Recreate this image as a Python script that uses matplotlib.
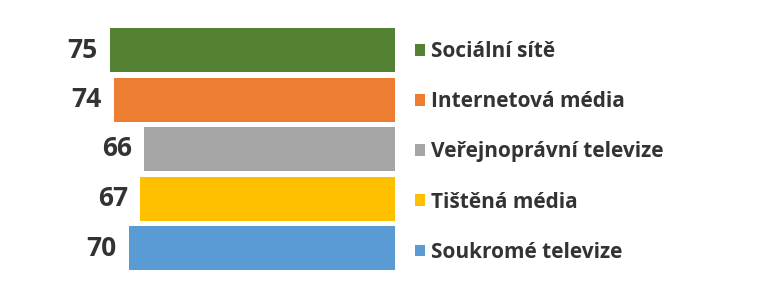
import matplotlib
matplotlib.use("Agg")
import matplotlib.pyplot as plt
from matplotlib.patches import Patch

categories = ["Sociální sítě", "Internetová média", "Veřejnoprávní televize",
              "Tištěná média", "Soukromé televize"]
values = [75, 74, 66, 67, 70]
colors = ["#548235", "#ED7D31", "#A5A5A5", "#FFC000", "#5B9BD5"]

W, H = 758, 299
fig = plt.figure(figsize=(W / 100, H / 100), dpi=100)
font = "Open Sans"
txt_color = "#333333"

zero_px = 395
ax = fig.add_axes([0, 0, zero_px / W, 1])
px_per_unit = 3.8
ax.set_xlim(zero_px / px_per_unit, 0)
pitch = 49.5
c0 = 50
ax.set_ylim((H - c0) / pitch, -c0 / pitch)
ypos = list(range(len(values)))
bars = ax.barh(ypos, values, height=44 / pitch, color=colors)
for y, v in zip(ypos, values):
    ax.annotate(str(v), xy=(v, y), xytext=(-9, 0), textcoords="offset points",
                ha="right", va="center", fontsize=19, fontweight="bold",
                family=font, color=txt_color)
ax.axis("off")

handles = [Patch(facecolor=c, edgecolor="none") for c in colors]
leg = fig.legend(handles, categories, loc="center left",
                 bbox_to_anchor=(415 / W, 1 - 152 / H), frameon=False,
                 prop={"family": font, "weight": "bold", "size": 15},
                 handlelength=0.48, handleheight=0.48, handletextpad=0.3,
                 labelspacing=1.4, borderaxespad=0, borderpad=0)
for t in leg.get_texts():
    t.set_color(txt_color)

fig.savefig("out.png", dpi=100)
